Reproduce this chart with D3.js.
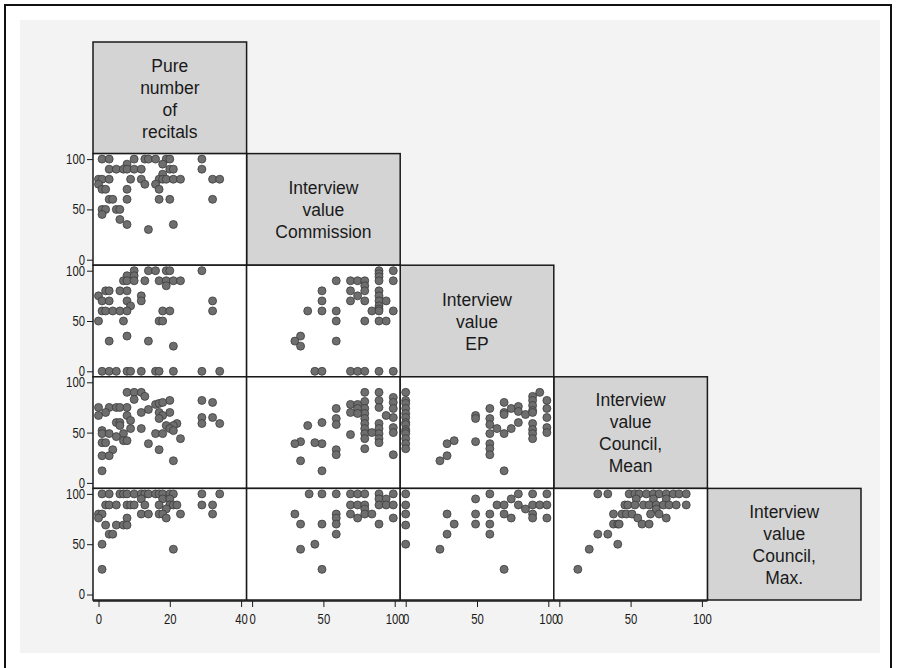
<!DOCTYPE html>
<html><head><meta charset="utf-8">
<script src="https://cdn.jsdelivr.net/npm/d3@7"></script>
<style>body{margin:0;background:#fff}svg{display:block}</style>
</head><body><svg id="c" width="897" height="668"></svg>
<script>
// ---- data ----
const varLabels = [
  ["Pure","number","of","recitals"],
  ["Interview","value","Commission"],
  ["Interview","value","EP"],
  ["Interview","value","Council,","Mean"],
  ["Interview","value","Council,","Max."]
];
const varDomains = [[0,40],[0,100],[0,100],[0,100],[0,100]];
const xTickValues = [[0,20,40],[0,50,100],[0,50,100],[0,50,100]];
const yTickValues = [0,50,100];

// row 2 (Commission) vs col 1 (recitals)
const p21 = [[1,100],[3,100],[10,100],[13,100],[14,100],[16,100],[19,100],[20,100],[29,100],
 [8,95],[18,95],
 [3,90],[5,90],[7,90],[8,90],[10,90],[12,90],[20,90],[21,90],[29,90],
 [18,85],
 [0,80],[1,80],[3,80],[9,80],[12,80],[17,80],[18,80],[19,80],[21,80],[23,80],[32,80],[34,80],
 [0,75],[13,75],[16,75],
 [1,70],[2,70],[8,70],[17,70],
 [3,60],[4,60],[8,60],[17,60],[20,60],[32,60],
 [1,50],[2,50],[5,50],[6,50],
 [1,45],[6,40],[8,35],[21,35],[14,30]];
// row 3 (EP) vs recitals
const p31 = [[10,100],[14,100],[16,100],[19,100],[20,100],[29,100],
 [8,95],[10,95],
 [7,90],[8,90],[10,90],[13,90],[17,90],[19,90],[21,90],[23,90],
 [19,85],
 [2,80],[3,80],[6,80],[8,80],
 [0,75],[12,75],
 [1,70],[3,70],[8,70],[12,70],[32,70],
 [9,65],
 [1,60],[2,60],[4,60],[6,60],[8,60],[18,60],[20,60],[32,60],
 [0,50],[7,50],[17,50],[18,50],
 [8,35],[3,30],[14,30],[21,25],
 [1,0],[3,0],[5,0],[8,0],[9,0],[12,0],[16,0],[17,0],[21,0],[29,0],[34,0]];
// row 3 (EP) vs Commission
const p32 = [[89,100],[89,97],[89,94],[89,90],[99,100],[99,90],
 [59,90],[69,90],[74,90],[79,90],
 [79,85],[79,80],
 [49,80],[69,80],[74,75],
 [89,80],[89,75],[89,70],[89,65],[89,62],
 [94,70],[69,70],[49,70],[79,70],
 [39,60],[49,60],[59,60],[84,60],[99,60],[89,60],
 [59,50],[79,50],[89,50],[94,50],
 [34,35],[30,30],[34,25],[59,30],
 [44,0],[49,0],[69,0],[74,0],[79,0],[89,0],[99,0]];
// row 4 (Council mean) vs recitals
const p41 = [[8,90],[10,90],[12,90],[13,86],[10,83],[29,82],[32,80],
 [16,78],[17,79],[18,80],[20,82],
 [0,75],[3,75],[5,75],[6,75],[8,75],[14,73],
 [2,70],[12,70],[17,70],[20,70],
 [0,67],[8,67],[18,67],
 [29,65],[32,65],[17,64],[9,62],
 [5,60],[6,60],[29,59],[34,59],[22,59],
 [6,57],[19,57],[21,57],
 [9,54],[12,54],[20,54],
 [1,52],[21,52],
 [1,49],[3,49],[7,49],[16,49],[18,49],
 [5,46],[23,44],[7,42],[8,42],[1,40],[2,40],[14,39],
 [4,33],[17,33],[1,27],[3,27],[21,22],[1,12]];
// row 4 (Council mean) vs Commission
const p42 = [[79,90],[79,81],[79,74],[79,69],[79,64],[79,59],[79,54],[79,49],[79,44],[79,34],
 [89,90],[89,82],[89,75],[89,59],[89,54],[89,49],[89,44],[89,40],
 [99,85],[99,80],[99,74],[99,65],[99,55],[99,50],[99,28],
 [69,78],[69,70],[69,48],
 [74,78],[74,74],[74,69],
 [94,67],[84,50],
 [59,74],[59,64],[59,58],[59,33],[59,28],
 [49,60],[49,39],[49,12],
 [39,57],[34,41],[30,39],[44,40],[34,22]];
// row 4 (Council mean) vs EP
const p43 = [[0,90],[0,82],[0,79],[0,74],[0,69],[0,65],[0,60],[0,58],[0,53],[0,51],[0,49],[0,44],[0,39],[0,34],
 [29,39],[29,27],[34,42],[24,22],
 [49,67],[49,64],[49,41],
 [59,74],[59,64],[59,58],[59,49],[59,39],[59,34],[59,28],
 [64,54],
 [69,80],[69,70],[69,68],[69,49],[69,12],
 [74,74],[74,54],
 [79,76],[79,71],[79,60],
 [84,68],
 [89,86],[89,82],[89,77],[89,72],[89,70],[89,59],[89,53],[89,49],[89,44],
 [94,90],
 [99,82],[99,74],[99,65],[99,55],[99,50]];
// row 5 (Council max) vs recitals
const p51 = [[1,100],[3,100],[6,100],[7,100],[8,100],[10,100],[12,100],[13,100],[14,100],[16,100],[17,100],[18,100],[20,100],[21,100],[29,100],[34,100],
 [12,95],[18,95],[20,95],
 [2,89],[3,89],[5,89],[8,89],[9,89],[10,89],[13,89],[17,89],[20,89],[21,89],[22,89],[29,89],[32,89],
 [19,85],
 [0,80],[1,80],[12,80],[14,80],[17,80],[18,80],[23,80],[32,80],
 [0,76],[8,76],[19,76],
 [2,69],[5,69],[7,69],[8,69],
 [3,60],[4,60],
 [1,50],[21,45],[1,25]];
// row 5 vs Commission
const p52 = [[40,100],[49,100],[59,100],[69,100],[74,100],[79,100],[89,100],[99,100],
 [89,95],[94,95],
 [69,89],[74,89],[79,89],[89,89],[94,89],[99,89],
 [79,85],
 [30,80],[59,80],[69,80],[79,80],[84,80],
 [59,76],[74,76],[99,76],
 [34,70],[49,70],[59,70],[89,70],
 [59,60],[44,50],[34,45],[49,25]];
// row 5 vs EP
const p53 = [[0,100],[0,89],[0,80],[0,69],[0,50],
 [59,100],[79,100],[89,100],[99,100],
 [49,95],[74,95],
 [64,89],[69,89],[79,89],[89,89],[94,89],[99,89],
 [84,85],
 [29,80],[49,80],[59,80],[69,80],[89,80],
 [74,76],[89,76],[99,76],
 [34,70],[49,70],[59,70],
 [29,60],[59,60],[24,45],[69,25]];
// row 5 vs Council mean
const p54 = [[27,100],[34,100],[49,100],[53,100],[56,100],[61,100],[66,100],[70,100],[75,100],[80,100],[84,100],[89,100],
 [54,95],[66,95],[75,95],
 [46,89],[48,89],[53,89],[59,89],[63,89],[68,89],[73,89],[77,89],[82,89],[89,89],
 [68,85],
 [38,80],[44,80],[47,80],[51,80],[64,80],[70,80],
 [55,76],[75,76],
 [38,70],[41,70],[42,70],[58,70],[63,70],
 [27,60],[34,60],[41,50],[21,45],[13,25]];

const panels = [
  {row:1,col:0,pts:p21},
  {row:2,col:0,pts:p31},{row:2,col:1,pts:p32},
  {row:3,col:0,pts:p41},{row:3,col:1,pts:p42},{row:3,col:2,pts:p43},
  {row:4,col:0,pts:p51},{row:4,col:1,pts:p52},{row:4,col:2,pts:p53},{row:4,col:3,pts:p54}
];

// ---- layout ----
const X0 = 93, CW = 153.6, Y0 = 42, CH = 111.6, PAD = 5.5;
const FONT = "Liberation Sans, Arial, Helvetica, sans-serif";
const svg = d3.select("#c");
svg.append("rect").attr("width",897).attr("height",668).attr("fill","#fff");
svg.append("rect").attr("x",20).attr("y",20).attr("width",860).attr("height",633).attr("fill","#f3f3f3");
svg.append("rect").attr("x",5).attr("y",5).attr("width",886).attr("height",700)
  .attr("fill","none").attr("stroke","#111").attr("stroke-width",2);

const xs = varDomains.map((d,i)=>d3.scaleLinear().domain(d).range([X0+i*CW+PAD, X0+(i+1)*CW-PAD]));
const ys = varDomains.map((d,i)=>d3.scaleLinear().domain(d).range([Y0+(i+1)*CH-PAD, Y0+i*CH+PAD]));

// diagonal label boxes
varLabels.forEach((lines,i)=>{
  const x = X0+i*CW, y = Y0+i*CH;
  svg.append("rect").attr("x",x).attr("y",y).attr("width",CW).attr("height",CH)
    .attr("fill","#d4d4d4").attr("stroke","#1a1a1a").attr("stroke-width",1.5);
  const cx = x+CW/2, cy = y+CH/2+0.5, lh = 22;
  lines.forEach((t,k)=>{
    svg.append("text").attr("transform",`translate(${cx},${cy+(k-(lines.length-1)/2)*lh})`)
      .attr("text-anchor","middle").attr("dy","0.36em")
      .attr("font-family",FONT).attr("font-size",17.5)
      .attr("fill","#1a1a1a").text(t);
  });
});

// panels
panels.forEach(p=>{
  const x = X0+p.col*CW, y = Y0+p.row*CH;
  svg.append("rect").attr("x",x).attr("y",y).attr("width",CW).attr("height",CH)
    .attr("fill","#fff").attr("stroke","#1a1a1a").attr("stroke-width",1.5);
});
panels.forEach(p=>{
  svg.append("g").selectAll("circle").data(p.pts).join("circle")
    .attr("cx",d=>xs[p.col](d[0])).attr("cy",d=>ys[p.row](d[1]))
    .attr("r",4).attr("fill","#6e6e6e").attr("stroke","#3c3c3c").attr("stroke-width",0.8);
});

function styleTicks(g){
  g.selectAll("line").attr("stroke","#1a1a1a");
  g.selectAll("text").attr("font-family",FONT).attr("font-size",14).attr("fill","#1a1a1a")
    .attr("lengthAdjust","spacingAndGlyphs")
    .attr("textLength",function(){ return this.textContent.length*6.3; });
}
// y axes (left of first column)
for(let r=1;r<5;r++){
  const g = svg.append("g").attr("transform",`translate(${X0},0)`)
    .call(d3.axisLeft(ys[r]).tickValues(yTickValues).tickSize(6).tickSizeOuter(0).tickPadding(2));
  g.select(".domain").remove();
  styleTicks(g);
}
// x axes (bottom of columns 1-4)
const bottom = Y0+5*CH;
for(let c=0;c<4;c++){
  const g = svg.append("g").attr("transform",`translate(0,${bottom+1})`)
    .call(d3.axisBottom(xs[c]).tickValues(xTickValues[c]).tickSize(6).tickSizeOuter(0).tickPadding(7));
  g.select(".domain").attr("d",`M${X0+c*CW},0H${X0+(c+1)*CW}`).attr("stroke","#1a1a1a").attr("stroke-width",1.5);
  styleTicks(g);
}
</script></body></html>
